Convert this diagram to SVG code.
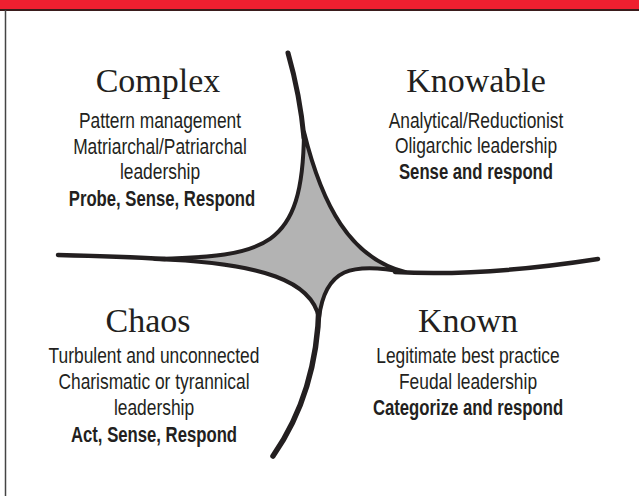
<svg xmlns="http://www.w3.org/2000/svg" width="639" height="496" viewBox="0 0 639 496">
<style>
.h{font-family:"Liberation Serif","Times New Roman",serif;font-size:34px;fill:#231f20;text-anchor:middle}
.t{font-family:"Liberation Sans",Arial,sans-serif;font-size:22px;fill:#231f20;text-anchor:middle}
.b{font-family:"Liberation Sans",Arial,sans-serif;font-size:22px;font-weight:bold;fill:#231f20;text-anchor:middle}
.ln{fill:none;stroke:#231f20;stroke-linecap:round}
</style>
<rect x="0" y="0" width="639" height="496" fill="#ffffff"/>
<rect x="0" y="0" width="639" height="9" fill="#ee1f30"/>
<line x1="0" y1="10" x2="639" y2="10" stroke="#3a1c1c" stroke-width="2"/>
<line x1="5.5" y1="10" x2="5.5" y2="496" stroke="#444" stroke-width="1.5"/>
<g id="connectors">
<path class="ln" d="M288,53 Q300,95 304,138" stroke-width="5"/>
<path class="ln" d="M58,255 C100,256 130,257 165,259" stroke-width="4.5"/>
<path class="ln" d="M395,272 C470,276 540,268 598,259" stroke-width="4.5"/>
<path class="ln" d="M319,305 C318,360 305,410 273,456" stroke-width="5.5"/>
<path id="center" d="M304,132 C322,205 350,258 405,272 C352,262 325,268 319,318 C312,282 265,263 155,259 C265,256 303,250 304,132 Z" fill="#b3b3b3" stroke="#231f20" stroke-width="4" stroke-linejoin="round"/>
</g>
<g id="complex">
<text class="h" x="158" y="92">Complex</text>
<text class="t" transform="translate(160,128) scale(0.79,1)">Pattern management</text>
<text class="t" transform="translate(160,154) scale(0.79,1)">Matriarchal/Patriarchal</text>
<text class="t" transform="translate(160,179) scale(0.79,1)">leadership</text>
<text class="b" transform="translate(162,206) scale(0.76,1)">Probe, Sense, Respond</text>
</g>
<g id="knowable">
<text class="h" x="476" y="92">Knowable</text>
<text class="t" transform="translate(476,128) scale(0.79,1)">Analytical/Reductionist</text>
<text class="t" transform="translate(476,153) scale(0.79,1)">Oligarchic leadership</text>
<text class="b" transform="translate(476,179) scale(0.76,1)">Sense and respond</text>
</g>
<g id="chaos">
<text class="h" x="148" y="332">Chaos</text>
<text class="t" transform="translate(154,363) scale(0.79,1)">Turbulent and unconnected</text>
<text class="t" transform="translate(154,389) scale(0.79,1)">Charismatic or tyrannical</text>
<text class="t" transform="translate(154,415) scale(0.79,1)">leadership</text>
<text class="b" transform="translate(154,442) scale(0.76,1)">Act, Sense, Respond</text>
</g>
<g id="known">
<text class="h" x="468" y="332">Known</text>
<text class="t" transform="translate(468,363) scale(0.79,1)">Legitimate best practice</text>
<text class="t" transform="translate(468,389) scale(0.79,1)">Feudal leadership</text>
<text class="b" transform="translate(468,415) scale(0.76,1)">Categorize and respond</text>
</g>
</svg>
